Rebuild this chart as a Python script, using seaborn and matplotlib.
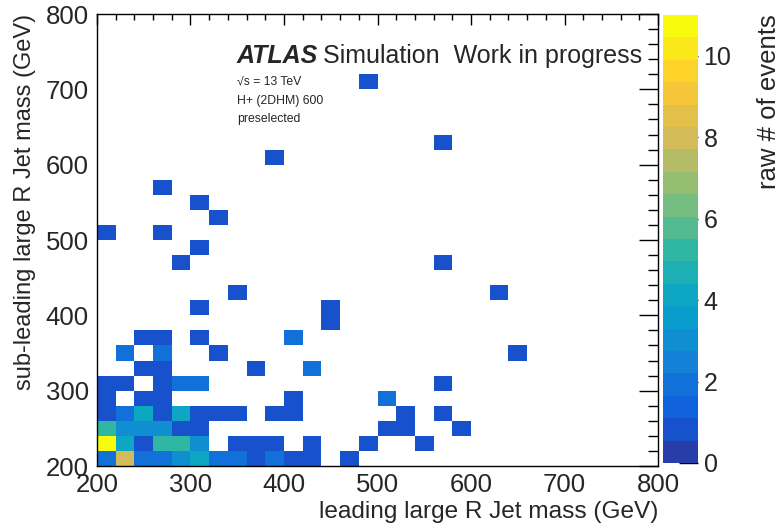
import numpy as np
import pandas as pd
import matplotlib
matplotlib.use("Agg")
import matplotlib.pyplot as plt
from matplotlib.colors import LinearSegmentedColormap, ListedColormap
from matplotlib.ticker import MultipleLocator
import seaborn as sns

# Filled cells: bin centres (GeV) and raw event counts
lead_mass = [210, 230, 250, 270, 290, 310, 330, 350, 370, 390, 410, 430, 470,
             210, 230, 250, 270, 290, 310, 350, 370, 390, 430, 490, 550,
             210, 230, 250, 270, 290, 310, 510, 530, 590,
             210, 230, 250, 270, 290, 310, 330, 350, 390, 410, 530, 570,
             210, 250, 270, 410, 510,
             210, 230, 270, 290, 310, 570,
             250, 270, 370, 430,
             230, 270, 330, 650,
             250, 270, 310, 410,
             450,
             310, 450,
             350, 630,
             290, 570,
             310,
             210, 270,
             330,
             310,
             270,
             390,
             570,
             490]
sublead_mass = [210] * 13 + [230] * 12 + [250] * 9 + [270] * 12 + [290] * 5 + \
               [310] * 6 + [330] * 4 + [350] * 4 + [370] * 4 + [390] + \
               [410] * 2 + [430] * 2 + [470] * 2 + [490] + [510] * 2 + \
               [530] + [550] + [570] + [610] + [630] + [710]
n_events = [2, 8, 2, 2, 3, 4, 2, 2, 1, 2, 1, 1, 1,
            11, 4, 1, 5, 5, 3, 1, 1, 1, 1, 1, 1,
            5, 3, 3, 3, 1, 1, 1, 1, 1,
            1, 2, 4, 1, 4, 1, 1, 1, 1, 1, 1, 1,
            1, 1, 1, 1, 2,
            1, 1, 1, 2, 2, 1,
            1, 1, 1, 2,
            2, 2, 1, 1,
            1, 1, 1, 2,
            1,
            1, 1,
            1, 1,
            1, 1,
            1,
            1, 1,
            1,
            1,
            1,
            1,
            1,
            1]

bin_edges = list(range(200, 801, 20))
z_max = 11
n_contours = 20
cbar_ticks = [0, 2, 4, 6, 8, 10]

df = pd.DataFrame({"lead": lead_mass, "sublead": sublead_mass, "n": n_events})

# ROOT "bird" palette, sampled per contour level the way TH2 COLZ does
stops = [0.0, 0.125, 0.25, 0.375, 0.5, 0.625, 0.75, 0.875, 1.0]
red = [0.2082, 0.0592, 0.0780, 0.0232, 0.1802, 0.5301, 0.8186, 0.9956, 0.9764]
green = [0.1664, 0.3599, 0.5041, 0.6419, 0.7178, 0.7492, 0.7328, 0.7862, 0.9832]
blue = [0.5293, 0.8684, 0.8385, 0.7914, 0.6425, 0.4662, 0.3499, 0.1968, 0.0539]
bird = LinearSegmentedColormap.from_list("bird", list(zip(stops, zip(red, green, blue))))
band_colors = [bird(int((i + 0.99) * 255 / n_contours) / 254) for i in range(n_contours)]
cmap = ListedColormap(band_colors)

sns.set_theme(style="white")
plt.rcParams["font.family"] = ["Liberation Sans", "DejaVu Sans"]
plt.rcParams["axes.linewidth"] = 1.0

fig = plt.figure(figsize=(7.81, 5.30), dpi=100)
ax = fig.add_axes([97 / 781, 64 / 530, 561 / 781, 452 / 530])
cax = fig.add_axes([663 / 781, 67 / 530, 35 / 781, 448 / 530])

sns.histplot(data=df, x="lead", y="sublead", weights="n",
             bins=(bin_edges, bin_edges), cmap=cmap, vmin=0, vmax=z_max,
             cbar=True, cbar_ax=cax, cbar_kws={"ticks": cbar_ticks}, ax=ax)

ax.set_xlim(200, 800)
ax.set_ylim(200, 800)
ax.xaxis.set_major_locator(MultipleLocator(100))
ax.yaxis.set_major_locator(MultipleLocator(100))
ax.xaxis.set_minor_locator(MultipleLocator(20))
ax.yaxis.set_minor_locator(MultipleLocator(20))
ax.tick_params(axis="x", which="major", direction="in", top=True, length=8,
               width=1, labelsize=18.5, pad=5, color="black")
ax.tick_params(axis="x", which="minor", direction="in", top=True, length=4,
               width=1, color="black")
ax.tick_params(axis="y", which="major", direction="in", right=True, length=14,
               width=1, labelsize=18.5, pad=6, color="black")
ax.tick_params(axis="y", which="minor", direction="in", right=True, length=7,
               width=1, color="black")
for s in ax.spines.values():
    s.set_visible(True)
    s.set_color("black")

ax.set_xlabel("leading large R Jet mass (GeV)", fontsize=17.6, loc="right", labelpad=3)
ax.set_ylabel("sub-leading large R Jet mass (GeV)", fontsize=17, loc="top", labelpad=7)

cax.tick_params(direction="in", length=14, width=1, labelsize=18, color="black",
                right=True, left=False, pad=4)
for s in cax.spines.values():
    s.set_visible(False)
cax.set_ylabel("")

fig.text(769 / 781, 1 - 14 / 530, "raw # of events", rotation=90, ha="center",
         va="top", fontsize=18.5)

# Experiment label block
fig.text(237 / 781, 1 - 63 / 530, "ATLAS", fontsize=18, fontweight="bold",
         fontstyle="italic", ha="left", va="baseline")
fig.text(323 / 781, 1 - 63 / 530, "Simulation  Work in progress", fontsize=18,
         ha="left", va="baseline")
fig.text(237 / 781, 1 - 85 / 530, "\u221as = 13 TeV", fontsize=8.8, ha="left", va="baseline")
fig.text(237 / 781, 1 - 104 / 530, "H+ (2DHM) 600", fontsize=8.8, ha="left", va="baseline")
fig.text(237 / 781, 1 - 122 / 530, "preselected", fontsize=8.8, ha="left", va="baseline")

fig.savefig("out.png", dpi=100)
